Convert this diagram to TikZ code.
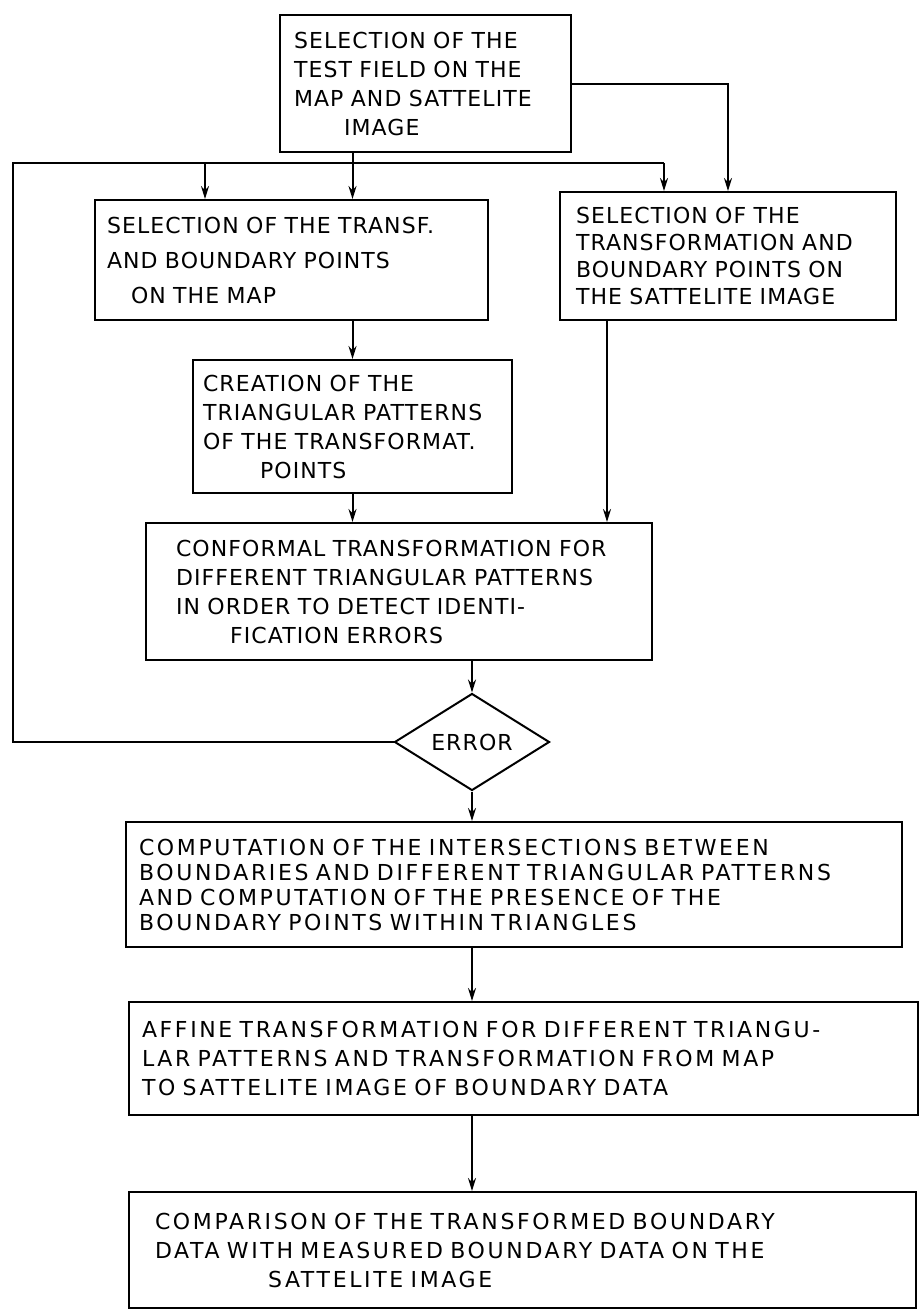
\documentclass[tikz,border=0pt]{standalone}
\usepackage{fontspec}
\newfontfamily\handfont[LetterSpace=5]{DejaVu Sans}
\newfontfamily\widehand[LetterSpace=12]{DejaVu Sans}
\usetikzlibrary{arrows.meta,shapes.geometric}

\begin{document}
\begin{tikzpicture}[x=1pt, y=-1pt, >={Stealth[length=13pt,width=8pt]}, line width=2pt,
  procbox/.style={draw, align=left, inner ysep=0pt, font=\handfont\fontsize{22}{29}\selectfont},
  widebox/.style={procbox, font=\widehand\fontsize{22}{29}\selectfont},
  decision/.style={draw, diamond, aspect=1.6, inner sep=0pt, minimum width=155pt, minimum height=97pt, font=\handfont\fontsize{22}{29}\selectfont}]
  \useasboundingbox (0,0) rectangle (922,1312);
  \node[procbox, text width=263pt, inner xsep=14pt, minimum height=137pt] (field) at (425.5,83.5)
    {SELECTION OF THE\\ TEST FIELD ON THE\\ MAP AND SATTELITE\\ \hspace*{50pt}IMAGE};
  \node[procbox, text width=369pt, inner xsep=12pt, minimum height=120pt, font=\handfont\fontsize{22}{35}\selectfont] (mappts) at (291.5,260)
    {SELECTION OF THE TRANSF.\\ AND BOUNDARY POINTS\\ \hspace*{24pt}ON THE MAP};
  \node[procbox, text width=304pt, inner xsep=16pt, minimum height=128pt, font=\handfont\fontsize{22}{27}\selectfont] (satpts) at (728,256)
    {SELECTION OF THE\\ TRANSFORMATION AND\\ BOUNDARY POINTS ON\\ THE SATTELITE IMAGE};
  \node[procbox, text width=299pt, inner xsep=10pt, minimum height=133pt] (tripat) at (352.5,426.5)
    {CREATION OF THE\\ TRIANGULAR PATTERNS\\ OF THE TRANSFORMAT.\\ \hspace*{57pt}POINTS};
  \node[procbox, text width=446pt, inner xsep=30pt, minimum height=137pt] (conf) at (399,591.5)
    {CONFORMAL TRANSFORMATION FOR\\ DIFFERENT TRIANGULAR PATTERNS\\ IN ORDER TO DETECT IDENTI-\\ \hspace*{54pt}FICATION ERRORS};
  \node[decision] (err) at (472,742) {ERROR};
  \node[widebox, text width=750pt, inner xsep=13pt, minimum height=125pt, font=\widehand\fontsize{22}{25}\selectfont] (inter) at (514,884.5)
    {COMPUTATION OF THE INTERSECTIONS BETWEEN\\ BOUNDARIES AND DIFFERENT TRIANGULAR PATTERNS\\ AND COMPUTATION OF THE PRESENCE OF THE\\ BOUNDARY POINTS WITHIN TRIANGLES};
  \node[widebox, text width=763pt, inner xsep=13pt, minimum height=113pt] (affine) at (523.5,1058.5)
    {AFFINE TRANSFORMATION FOR DIFFERENT TRIANGU-\\ LAR PATTERNS AND TRANSFORMATION FROM MAP\\ TO SATTELITE IMAGE OF BOUNDARY DATA};
  \node[widebox, text width=735pt, inner xsep=26pt, minimum height=116pt] (comp) at (522.5,1250)
    {COMPARISON OF THE TRANSFORMED BOUNDARY\\ DATA WITH MEASURED BOUNDARY DATA ON THE\\ \hspace*{113pt}SATTELITE IMAGE};

  \coordinate (busW) at (13,163);
  \coordinate (busE) at (664,163);
  \coordinate (tap) at (205,163);
  \draw (err.west) -| (busW) -- (busE);
  \draw[->] (field.east) -| (satpts.north);
  \path[->]
    (field.south -| tripat.north) edge (mappts.north -| tripat.north)
    (tap) edge (tap |- mappts.north)
    (busE) edge (busE |- satpts.north)
    (mappts.south -| tripat.north) edge (tripat.north)
    (tripat.south) edge (tripat.south |- conf.north)
    ([xshift=-121pt]satpts.south) edge ([xshift=-121pt]satpts.south |- conf.north)
    (conf.south -| err.north) edge (err.north)
    (err.south) edge (err.south |- inter.north)
    (inter.south -| err.south) edge (affine.north -| err.south)
    (affine.south -| err.south) edge (comp.north -| err.south)
  ;
\end{tikzpicture}
\end{document}
